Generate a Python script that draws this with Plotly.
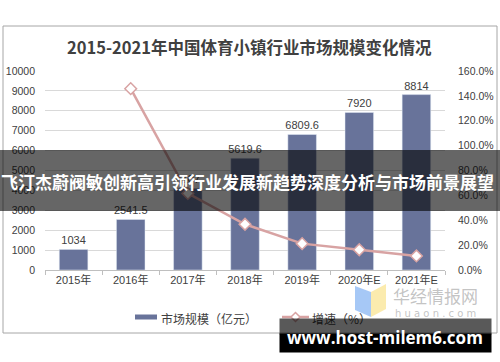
import plotly.graph_objects as go

years = ["2015年", "2016年", "2017年", "2018年", "2019年", "2020年E", "2021年E"]
market = [1034, 2541.5, 4107, 5619.6, 6809.6, 7920, 8814]
growth = [None, 145.8, 61.6, 36.8, 21.2, 16.3, 11.3]
left_ticks = [0, 1000, 2000, 3000, 4000, 5000, 6000, 7000, 8000, 9000, 10000]
right_ticks = [0, 20, 40, 60, 80, 100, 120, 140, 160]

title = "2015-2021年中国体育小镇行业市场规模变化情况"
banner = "飞汀杰蔚阀敏创新高引领行业发展新趋势深度分析与市场前景展望"
site = "www.host-milem6.com"

W, H = 500, 362
L, R, T, B = 45, 445, 71, 270


def px(x):
    return (x - L) / (R - L)


def py(y):
    return (B - y) / (B - T)


BAR = "#68739A"
LINE = "#D8A3A3"
TXT = "#404040"
FONT = "Liberation Sans, Noto Sans CJK SC, sans-serif"

fig = go.Figure()
fig.add_trace(go.Bar(
    x=years, y=market, name="市场规模（亿元）", marker_color=BAR,
    text=[str(v) for v in market], textposition="outside", constraintext="none",
    textfont=dict(size=11, color=TXT, family=FONT), cliponaxis=False,
    width=0.5,
))
fig.add_trace(go.Scatter(
    x=years, y=growth, name="增速（%）", yaxis="y2", mode="lines+markers",
    line=dict(color=LINE, width=2.5),
    marker=dict(symbol="diamond", size=9, color="white", line=dict(color=LINE, width=1.5)),
    cliponaxis=False,
))

shapes = []
annotations = []


def note(text, x, y, **kw):
    d = dict(text=text, xref="paper", yref="paper", x=px(x), y=py(y), showarrow=False,
             xanchor=kw.pop("xanchor", "center"), yanchor=kw.pop("yanchor", "middle"))
    d.update(kw)
    annotations.append(d)


# chart frame
shapes.append(dict(type="rect", xref="paper", yref="paper", x0=px(3), x1=px(497), y0=py(333), y1=py(26),
                   line=dict(color="#A6A6A6", width=1), fillcolor="rgba(0,0,0,0)", layer="below"))

# title
note("<b>" + title + "</b>", 250, 47, font=dict(size=16.5, color=TXT, family="Noto Sans CJK SC"))

# legend (manual)
ly = 317
shapes.append(dict(type="rect", xref="paper", yref="paper", x0=px(135), x1=px(157), y0=py(ly + 2.5), y1=py(ly - 2.5),
                   fillcolor=BAR, line=dict(width=0)))
note("市场规模（亿元）", 159, ly + 1, xanchor="left", font=dict(size=12, color=TXT, family="Noto Sans CJK SC"))
shapes.append(dict(type="line", xref="paper", yref="paper", x0=px(282), x1=px(309), y0=py(ly), y1=py(ly),
                   line=dict(color=LINE, width=2.5)))
shapes.append(dict(type="path", xref="paper", yref="paper",
                   path="M {a},{b} L {c},{d} L {e},{b} L {c},{f} Z".format(
                       a=px(291), b=py(ly), c=px(295.5), d=py(ly - 4.5), e=px(300), f=py(ly + 4.5)),
                   fillcolor="white", line=dict(color=LINE, width=1.5)))
note("增速（%）", 310, ly + 1, xanchor="left", font=dict(size=12, color=TXT, family="Noto Sans CJK SC"))

# huaon watermark logo
shapes.append(dict(type="path", xref="paper", yref="paper", layer="above",
                   path="M {},{} L {},{} L {},{} L {},{} Z".format(px(355), py(286), px(371), py(292), px(371), py(317), px(355), py(310)),
                   fillcolor="rgba(150,190,245,0.85)", line=dict(width=0)))
shapes.append(dict(type="path", xref="paper", yref="paper", layer="above",
                   path="M {},{} L {},{} L {},{} L {},{} Z".format(px(371), py(292), px(386), py(284), px(386), py(309), px(371), py(317)),
                   fillcolor="rgba(250,232,160,0.85)", line=dict(width=0)))
note("华经情报网", 435, 295, font=dict(size=17, color="rgba(170,170,170,0.7)", family="Noto Sans CJK SC"))
note("h u a o n . c o m", 435, 313, font=dict(size=10, color="rgba(170,170,170,0.7)", family="DejaVu Sans"))

# banner overlay
shapes.append(dict(type="rect", xref="paper", yref="paper", x0=px(0), x1=px(500), y0=py(211), y1=py(150),
                   fillcolor="rgba(0,0,0,0.6)", line=dict(width=0), layer="above"))
note("<b>" + banner + "</b>", 247, 181, font=dict(size=17, color="white", family="Noto Sans CJK SC"))

# bottom site watermark (annotation boxes so they lie above legend text)
note(" ", 385.5, 326.5, width=211, height=15, bgcolor="rgba(0,0,0,0.65)", borderpad=0)
note(" ", 385.5, 343, width=211, height=18, bgcolor="black", borderpad=0)
note("<b>" + site + "</b>", 385, 337.5, font=dict(size=17, color="white", family="Open Sans"))

fig.update_layout(
    width=W, height=H, autosize=False,
    margin=dict(l=L, r=W - R, t=T, b=H - B, autoexpand=False),
    paper_bgcolor="white", plot_bgcolor="white",
    showlegend=False,
    font=dict(family=FONT, size=11, color=TXT),
    xaxis=dict(type="category", showline=True, linecolor="#BFBFBF", linewidth=1, automargin=False,
               ticks="outside", tickson="boundaries", ticklen=4, tickcolor="#BFBFBF",
               tickfont=dict(size=11, color=TXT, family=FONT), showgrid=False),
    yaxis=dict(range=[0, 10000], tickvals=left_ticks, ticktext=[str(v) for v in left_ticks],
               showgrid=True, gridcolor="#D9D9D9", automargin=False,
               gridwidth=1, zeroline=False, showline=False, ticks="",
               tickfont=dict(size=10.5, color=TXT, family=FONT), ticklabelstandoff=9),
    yaxis2=dict(range=[0, 160], tickvals=right_ticks, ticktext=[f"{v:.1f}%" for v in right_ticks],
                overlaying="y", side="right", showgrid=False, zeroline=False, showline=False, automargin=False,
                tickfont=dict(size=10.5, color=TXT, family=FONT), ticklabelstandoff=12),
    shapes=shapes, annotations=annotations,
    bargap=0.5,
)

fig.write_html("out.html")
